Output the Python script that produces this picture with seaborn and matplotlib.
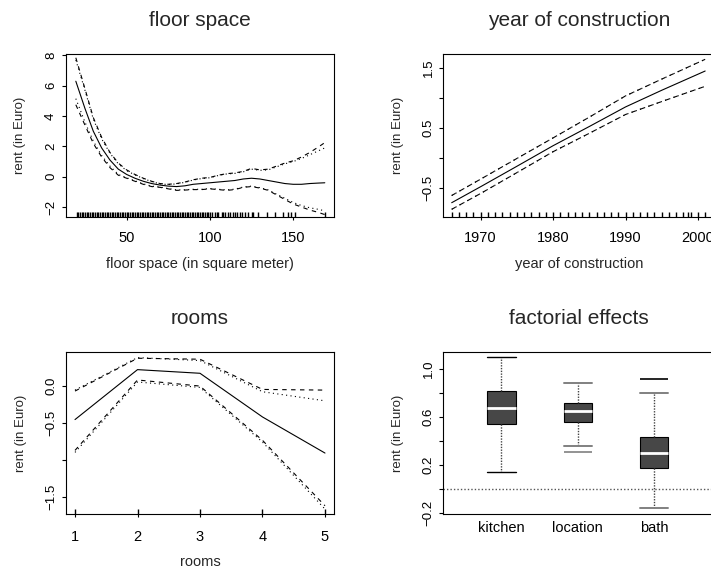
import matplotlib
matplotlib.use("Agg")
import matplotlib.pyplot as plt
import seaborn as sns
import numpy as np
import pandas as pd

# ---------------- data ----------------
# floor space
fs_x = [19.5, 25, 30, 35, 40, 45, 50, 55, 60, 65, 70, 75, 80, 85, 90, 95, 100,
        105, 110, 115, 120, 125, 130, 135, 140, 145, 150, 155, 160, 165, 169]
fs_est = [6.3, 4.5, 3.0, 1.9, 1.1, 0.5, 0.15, -0.1, -0.3, -0.45, -0.55, -0.62, -0.65,
          -0.6, -0.5, -0.45, -0.4, -0.35, -0.3, -0.25, -0.15, -0.1, -0.15, -0.25,
          -0.35, -0.45, -0.5, -0.5, -0.45, -0.42, -0.4]
fs_up95 = [7.85, 5.8, 3.9, 2.6, 1.6, 0.9, 0.45, 0.15, -0.1, -0.3, -0.45, -0.5, -0.45,
           -0.35, -0.2, -0.1, -0.05, 0.1, 0.2, 0.25, 0.35, 0.55, 0.45, 0.5, 0.7, 0.9,
           1.05, 1.3, 1.6, 1.95, 2.25]
fs_up80 = [7.7, 5.7, 3.8, 2.5, 1.55, 0.85, 0.4, 0.12, -0.12, -0.32, -0.47, -0.52, -0.47,
           -0.37, -0.22, -0.12, -0.07, 0.08, 0.18, 0.22, 0.32, 0.5, 0.42, 0.45, 0.65,
           0.85, 1.0, 1.2, 1.45, 1.7, 1.9]
fs_lo95 = [4.75, 3.4, 2.2, 1.3, 0.6, 0.1, -0.1, -0.3, -0.5, -0.65, -0.7, -0.8, -0.9,
           -0.88, -0.85, -0.85, -0.8, -0.85, -0.9, -0.85, -0.7, -0.65, -0.75, -0.9,
           -1.2, -1.5, -1.8, -2.0, -2.2, -2.35, -2.5]
fs_lo80 = [5.15, 3.6, 2.35, 1.4, 0.7, 0.15, -0.07, -0.27, -0.47, -0.62, -0.68, -0.78,
           -0.87, -0.86, -0.83, -0.83, -0.78, -0.83, -0.87, -0.82, -0.68, -0.62, -0.72,
           -0.87, -1.15, -1.42, -1.7, -1.9, -2.05, -2.15, -2.25]
fs_rug = [20, 21, 22, 23, 24, 25, 26, 27, 28, 29, 30, 31, 32, 33, 34, 35, 36, 37, 38,
          39, 40, 41, 42, 43, 44, 45, 46, 47, 48, 49, 50, 51, 52, 53, 54, 55, 56, 57,
          58, 59, 60, 61, 62, 63, 64, 65, 66, 67, 68, 69, 70, 71, 72, 73, 74, 75, 76,
          77, 78, 79, 80, 81, 82, 83, 84, 85, 86, 87, 88, 89, 90, 91, 92, 93, 94, 95,
          96, 97, 98, 99, 100, 101, 103, 104, 105, 107, 108, 109, 111, 112, 114, 115,
          116, 118, 119, 121, 123, 125, 126, 129, 134, 139, 144, 147, 149, 151, 169]

# year of construction
yc_x = [1966, 1970, 1975, 1980, 1985, 1990, 1995, 2001]
yc_est = [-0.75, -0.483, -0.143, 0.2, 0.52, 0.846, 1.124, 1.445]
yc_up = [-0.63, -0.357, -0.013, 0.33, 0.676, 1.03, 1.31, 1.64]
yc_lo = [-0.86, -0.596, -0.249, 0.1, 0.407, 0.72, 0.936, 1.19]
yc_rug = [1966, 1967, 1968, 1969, 1970, 1971, 1972, 1973, 1974, 1975, 1976, 1977,
          1978, 1979, 1980, 1981, 1982, 1983, 1984, 1985, 1986, 1987, 1988, 1989,
          1990, 1991, 1992, 1993, 1994, 1995, 1996, 1997, 1998, 1998.6, 1999, 2000, 2001]

# rooms
rm_x = [1, 2, 3, 4, 5]
rm_est = [-0.455, 0.216, 0.167, -0.42, -0.905]
rm_up95 = [-0.072, 0.369, 0.356, -0.05, -0.059]
rm_up80 = [-0.059, 0.378, 0.338, -0.081, -0.203]
rm_lo95 = [-0.869, 0.077, -0.005, -0.734, -1.613]
rm_lo80 = [-0.896, 0.05, -0.023, -0.757, -1.658]

# factorial effects (box statistics)
fe_labels = ["kitchen", "location", "bath"]
fe_whislo = [0.144, 0.362, -0.155]
fe_q1 = [0.54, 0.562, 0.18]
fe_med = [0.678, 0.65, 0.304]
fe_q3 = [0.817, 0.72, 0.432]
fe_whishi = [1.097, 0.886, 0.803]
fe_fliers = [[], [0.312], [0.914]]

# ---------------- style ----------------
sns.set_style("ticks")
plt.rcParams["font.family"] = ["Liberation Sans", "DejaVu Sans"]
plt.rcParams["axes.linewidth"] = 0.8
plt.rcParams["axes.edgecolor"] = "black"

W, H = 711, 573
fig = plt.figure(figsize=(W / 100, H / 100), dpi=100)


def rect(l, r, t, b):
    return [l / W, 1 - b / H, (r - l) / W, (b - t) / H]


MINUS = "\u2212"
LW = 0.8
DASH = (0, (4, 4))
DOT = (0, (1, 3))


def style_axes(ax, title, xlabel, yticks, ylabels, xticks, xlabels, xtick_len=2.0,
               xpad=8.2):
    for s in ax.spines.values():
        s.set_visible(True)
        s.set_color("black")
        s.set_linewidth(LW)
    ax.set_title(title, fontsize=15, pad=20)
    ax.set_yticks(yticks)
    ax.set_yticklabels(ylabels)
    ax.set_xticks(xticks)
    ax.set_xticklabels(xlabels)
    ax.tick_params(axis="y", length=3.1, width=LW, pad=3.0, labelsize=9.5,
                   labelrotation=90, colors="black")
    ax.tick_params(axis="x", length=xtick_len, width=LW, pad=xpad, labelsize=10.5,
                   colors="black")
    for lab in ax.get_yticklabels():
        lab.set_va("center")
    ax.set_ylabel("rent (in Euro)", fontsize=9.5)
    wpx = ax.get_position().width * W
    hpx = ax.get_position().height * H
    ax.yaxis.set_label_coords(-39 / wpx, 0.5)
    if xlabel:
        ax.set_xlabel(xlabel, fontsize=10.5, va="top")
        ax.xaxis.set_label_coords(0.5, -40.5 / hpx)
    else:
        ax.set_xlabel("")


def band_lines(ax, x, est, up95, up80, lo95, lo80):
    sns.lineplot(x=x, y=est, ax=ax, color="black", lw=LW, linestyle="-")
    sns.lineplot(x=x, y=up95, ax=ax, color="black", lw=LW, linestyle=DASH)
    sns.lineplot(x=x, y=lo95, ax=ax, color="black", lw=LW, linestyle=DASH)
    sns.lineplot(x=x, y=up80, ax=ax, color="black", lw=LW, linestyle=DOT)
    sns.lineplot(x=x, y=lo80, ax=ax, color="black", lw=LW, linestyle=DOT)


# ---- panel 1: floor space ----
ax1 = fig.add_axes(rect(65.5, 334.3, 53.5, 216.5))
band_lines(ax1, fs_x, fs_est, fs_up95, fs_up80, fs_lo95, fs_lo80)
sns.rugplot(x=fs_rug, ax=ax1, height=0.03, color="black", lw=1.3, expand_margins=False)
ax1.set_xlim(13.3, 174.7)
ax1.set_ylim(-2.625, 8.13)
style_axes(ax1, "floor space", "floor space (in square meter)",
           [-2, 0, 2, 4, 6, 8], [MINUS + "2", "0", "2", "4", "6", "8"],
           [50, 100, 150], ["50", "100", "150"])

# ---- panel 2: year of construction ----
ax2 = fig.add_axes(rect(443.3, 715.3, 53.5, 216.5))
band_lines(ax2, yc_x, yc_est, yc_up, yc_up, yc_lo, yc_lo)
sns.rugplot(x=yc_rug, ax=ax2, height=0.03, color="black", lw=1.6, expand_margins=False)
ax2.set_xlim(1964.84, 2002.4)
ax2.set_ylim(-0.98, 1.737)
style_axes(ax2, "year of construction", "year of construction",
           [-0.5, 0.0, 0.5, 1.0, 1.5], [MINUS + "0.5", "", "0.5", "", "1.5"],
           [1970, 1980, 1990, 2000], ["1970", "1980", "1990", "2000"])

# ---- panel 3: rooms ----
ax3 = fig.add_axes(rect(65.7, 334.3, 351.7, 514.3))
band_lines(ax3, rm_x, rm_est, rm_up95, rm_up80, rm_lo95, rm_lo80)
sns.rugplot(x=rm_x, ax=ax3, height=0.03, color="black", lw=2.0, expand_margins=False)
ax3.set_xlim(0.851, 5.149)
ax3.set_ylim(-1.728, 0.457)
style_axes(ax3, "rooms", "rooms",
           [-1.5, -1.0, -0.5, 0.0], [MINUS + "1.5", "", MINUS + "0.5", "0.0"],
           [1, 2, 3, 4, 5], ["1", "2", "3", "4", "5"], xtick_len=2.0, xpad=9.5)

# ---- panel 4: factorial effects ----
ax4 = fig.add_axes(rect(443.3, 715.3, 351.7, 514.3))
stats = []
for i, lab in enumerate(fe_labels):
    stats.append(dict(label=lab, whislo=fe_whislo[i], q1=fe_q1[i], med=fe_med[i],
                      q3=fe_q3[i], whishi=fe_whishi[i], fliers=fe_fliers[i]))
ax4.axhline(0, color="#555555", lw=1.0, linestyle=(0, (1, 1.5)), zorder=1)
art = ax4.bxp(stats, positions=[1, 2, 3], widths=0.373, capwidths=0.373,
              patch_artist=True, showfliers=True,
              boxprops=dict(facecolor="#474747", edgecolor="black", linewidth=LW),
              medianprops=dict(color="white", linewidth=2.0),
              whiskerprops=dict(color="#444444", linewidth=1.0, linestyle=(0, (1, 1))),
              capprops=dict(color="black", linewidth=1.0),
              flierprops=dict(marker="_", markersize=20, markeredgewidth=1.2,
                              markeredgecolor="black"))
cap_colors = ["black", "black", "#808080", "#808080", "#808080", "#808080"]
for c, col in zip(art["caps"], cap_colors):
    c.set_color(col)
    if col != "black":
        c.set_linewidth(1.4)
flier_colors = ["black", "#808080", "black"]
for f, col in zip(art["fliers"], flier_colors):
    f.set_markeredgecolor(col)
ax4.set_xlim(0.238, 3.80)
ax4.set_ylim(-0.208, 1.144)
style_axes(ax4, "factorial effects", None,
           [-0.2, 0.0, 0.2, 0.4, 0.6, 0.8, 1.0],
           [MINUS + "0.2", "", "0.2", "", "0.6", "", "1.0"],
           [1, 2, 3], fe_labels, xtick_len=0, xpad=5.0)

fig.savefig("out.png", dpi=100)
